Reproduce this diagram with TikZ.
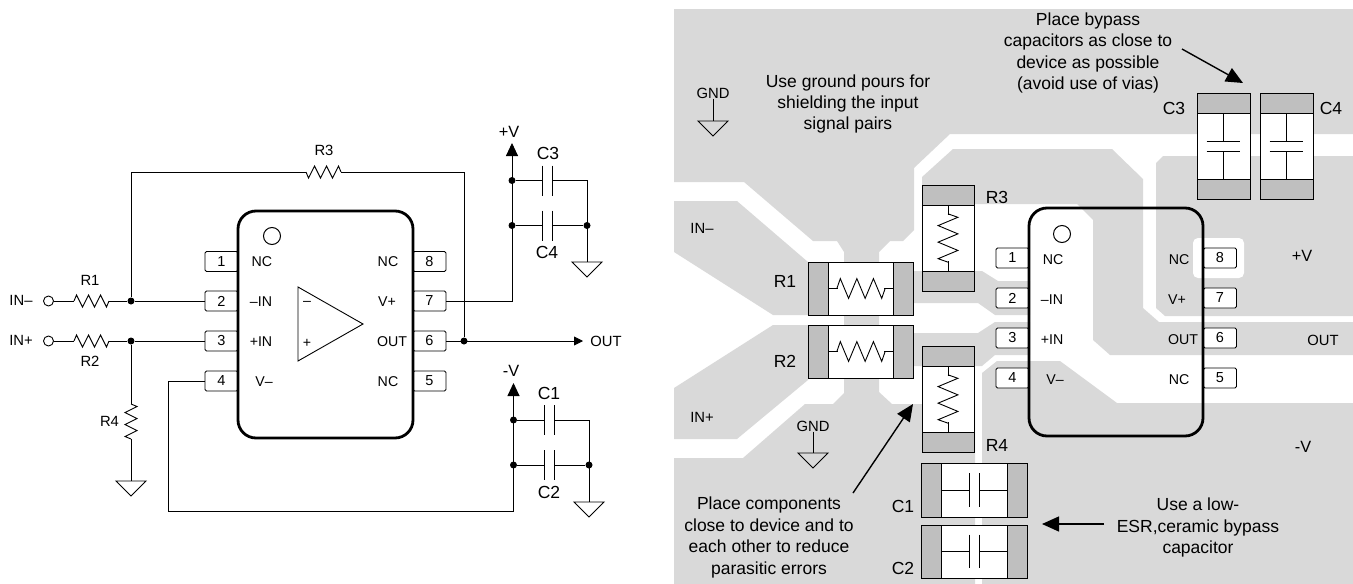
\documentclass[tikz,border=0pt]{standalone}
\usepackage{fontspec}
\setmainfont{Liberation Sans}
\usetikzlibrary{arrows.meta}
\definecolor{pourgray}{HTML}{D9D9D9}
\definecolor{padgray}{HTML}{BFBFBF}
\tikzset{
  lab/.style={inner sep=0pt,font=\fontsize{14.8}{18}\selectfont},
  chiplab/.style={inner sep=0pt,font=\fontsize{14.2}{18}\selectfont},
  supplylab/.style={inner sep=0pt,font=\fontsize{16.3}{20}\selectfont},
  biglab/.style={inner sep=0pt,font=\fontsize{17.5}{21.5}\selectfont},
  note/.style={inner sep=0pt,align=center,font=\fontsize{17.5}{21.4}\selectfont},
  pinbox/.style={draw,fill=white,rounded corners=1.5pt,minimum width=33pt,minimum height=20pt,inner sep=0pt,font=\fontsize{14.5}{18}\selectfont},
  chipbody/.style={draw,line width=2.8pt,rounded corners=18pt,minimum width=175pt,minimum height=227pt,inner sep=0pt},
  dot/.style={circle,fill=black,minimum size=7pt,inner sep=0pt},
  opendot/.style={circle,draw,minimum size=10pt,inner sep=0pt},
  mark1/.style={circle,draw,line width=1pt,minimum size=17pt,inner sep=0pt},
  body/.style={draw,fill=white,inner sep=0pt},
  endpad/.style={draw,fill=padgray,inner sep=0pt},
  callout/.style={->,line width=1.4pt,>={Triangle[length=17pt,width=15pt]}},
  reswave/.pic={\draw (-17.5,0) -- (-15,-6) -- (-9,6) -- (-3,-6) -- (3,6) -- (9,-6) -- (15,6) -- (17.5,0);},
  capgap/.pic={\draw (-5,-15) -- (-5,15) (5,-15) -- (5,15);},
  gndsym/.pic={\draw (-15,0) -- (15,0) -- (0,15) -- cycle;}
}
\begin{document}
\begin{tikzpicture}[x=1pt,y=-1pt,line width=0.9pt,>={Triangle[length=13pt,width=12pt]}]
  \useasboundingbox (0,0) rectangle (1353,584);

  % Ground pours
  \fill[pourgray] (674,9) -- (1353,9) -- (1353,134) -- (950,134) -- (914,168) -- (914,230) -- (903,241) -- (890,241) -- (879,252) -- (879,392) -- (892,404) -- (975,404) -- (975,584) -- (674,584) -- (674,458) -- (743,458) -- (805,404) -- (833,404) -- (844,393) -- (844,252) -- (837,241) -- (813,241) -- (744,182) -- (674,182) -- cycle;
  \fill[pourgray] (674,201) -- (737,201) -- (808,262) -- (808,315) -- (773,315) -- (674,252) -- cycle;
  \fill[pourgray] (674,388) -- (773,325) -- (808,325) -- (808,380) -- (737,439) -- (674,439) -- cycle;
  \fill[pourgray] (922,177) -- (953,149) -- (1112,149) -- (1143,179) -- (1143,308) -- (1159,322) -- (1353,322) -- (1353,355) -- (1110,355) -- (1093,340) -- (1093,220) -- (1077,204) -- (922,204) -- cycle;
  \fill[pourgray] (914,271) -- (982,271) -- (998,281) -- (1030,281) -- (1030,315) -- (995,315) -- (978,303) -- (914,303) -- cycle;
  \fill[pourgray] (914,333) -- (978,333) -- (995,322) -- (1030,322) -- (1030,355) -- (995,355) -- (982,366) -- (914,366) -- cycle;
  \fill[pourgray] (982,373) -- (997,361) -- (1060,361) -- (1117,403) -- (1353,403) -- (1353,584) -- (982,584) -- cycle;
  \fill[pourgray] (1156,163) -- (1163,156) -- (1353,156) -- (1353,316) -- (1165,316) -- (1156,308) -- cycle;
  \node[fill=white,rounded corners=5pt,minimum width=51pt,minimum height=40pt,inner sep=0pt] (p8clear) at (1218.5,258) {};

  % Schematic: pins and chip
  \node[pinbox] (p1) at (221.5,261.5) {1\hspace{5pt}};
  \node[pinbox] (p2) at (221.5,301) {2\hspace{5pt}};
  \node[pinbox] (p3) at (221.5,341) {3\hspace{5pt}};
  \node[pinbox] (p4) at (221.5,381) {4\hspace{5pt}};
  \node[pinbox] (p8) at (429.5,261.5) {8};
  \node[pinbox] (p7) at (429.5,301) {7};
  \node[pinbox] (p6) at (429.5,341) {6};
  \node[pinbox] (p5) at (429.5,381) {5};
  \node[chipbody] (chip) at (325.5,324.5) {};
  \node[mark1] (chipmark) at (272,236) {};
  \node[chiplab] (lnc1) at (262,262) {NC};
  \node[chiplab] (lin1) at (261,302) {–IN};
  \node[chiplab] (lip1) at (261,342) {+IN};
  \node[chiplab] (lvm1) at (264,382) {V–};
  \node[chiplab] (lnc8) at (388,262) {NC};
  \node[chiplab] (lvp1) at (387,302) {V+};
  \node[chiplab] (lout1) at (392,342) {OUT};
  \node[chiplab] (lnc5) at (388,382) {NC};

  % Amplifier symbol
  \coordinate (ampa) at (298,287);
  \coordinate (ampb) at (298,361);
  \coordinate (ampc) at (363,324);
  \draw (ampa) -- (ampc) -- (ampb) -- cycle;
  \node[chiplab] (ampm) at (307,303.5) {–};
  \node[chiplab] (ampp) at (307,343) {+};

  % Inputs
  \node[lab] (inmlab) at (21,300) {IN–};
  \node[lab] (inplab) at (21,340) {IN+};
  \node[opendot] (inm) at (48.5,301) {};
  \node[opendot] (inp) at (48.5,341) {};
  \coordinate (r1w) at (74,301);
  \coordinate (r1e) at (109,301);
  \coordinate (r2w) at (74,341);
  \coordinate (r2e) at (109,341);
  \pic at (91.5,301) {reswave};
  \pic at (91.5,341) {reswave};
  \node[lab] (r1lab) at (90,280) {R1};
  \node[lab] (r2lab) at (90,361) {R2};
  \node[dot] (j1) at (131,301) {};
  \node[dot] (j2) at (131,341) {};
  \draw (inm) -- (r1w);
  \draw (r1e) -- (j1) -- (p2.west);
  \draw (inp) -- (r2w);
  \draw (r2e) -- (j2) -- (p3.west);

  % Feedback R3
  \node[dot] (j3) at (464,341) {};
  \coordinate (r3w) at (306,172);
  \coordinate (r3e) at (341,172);
  \pic[yscale=-1] at (323.5,172) {reswave};
  \node[lab] (r3lab) at (324,150) {R3};
  \draw (j1) |- (r3w);
  \draw (r3e) -| (j3);
  \coordinate (outend) at (583,341);
  \node[lab] (outlab) at (606,341) {OUT};
  \draw[->,>={Triangle[length=9pt,width=9pt]}] (p6.east) -- (outend);

  % R4 to ground
  \coordinate (r4t) at (131,404);
  \coordinate (r4b) at (131,439);
  \pic[rotate=90] at (131,421.5) {reswave};
  \node[lab] (r4lab) at (109.5,421) {R4};
  \coordinate (g1) at (131,481);
  \draw (j2) -- (r4t);
  \draw (r4b) -- (g1);
  \pic at (g1) {gndsym};

  % Positive supply
  \coordinate (vptip) at (512,143);
  \node[supplylab] (vplab) at (509,132) {+V};
  \draw[->] (p7.east) -| (vptip);
  \node[dot] (j4) at (512,180.5) {};
  \node[dot] (j5) at (512,225.5) {};
  \node[dot] (j6) at (587,225.5) {};
  \coordinate (j4r) at (587,180.5);
  \coordinate (c3w) at (542,180.5);
  \coordinate (c3e) at (552,180.5);
  \coordinate (c4w) at (542,225.5);
  \coordinate (c4e) at (552,225.5);
  \coordinate (g2) at (587,262);
  \pic at (547,180.5) {capgap};
  \pic at (547,225.5) {capgap};
  \node[biglab] (c3lab) at (548,153) {C3};
  \node[biglab] (c4lab) at (547,252) {C4};
  \draw (j4) -- (c3w);
  \draw (c3e) -- (j4r) -- (g2);
  \draw (j5) -- (c4w);
  \draw (c4e) -- (j6);
  \pic at (g2) {gndsym};

  % Negative supply
  \coordinate (vmtip) at (513.5,383);
  \coordinate (vmlow) at (168.5,511);
  \node[supplylab] (vmlab) at (511,371) {-V};
  \draw[->] (p4.west) -- (vmlow |- p4.west) -- (vmlow) -| (vmtip);
  \node[dot] (j7) at (513.5,420) {};
  \node[dot] (j8) at (513.5,465) {};
  \node[dot] (j9) at (589,465) {};
  \coordinate (j7r) at (589,420);
  \coordinate (c1w) at (544.5,420);
  \coordinate (c1e) at (554.5,420);
  \coordinate (c2w) at (544.5,465);
  \coordinate (c2e) at (554.5,465);
  \coordinate (g3) at (589,502);
  \pic at (549.5,420) {capgap};
  \pic at (549.5,465) {capgap};
  \node[biglab] (c1lab) at (549,393) {C1};
  \node[biglab] (c2lab) at (549,492) {C2};
  \draw (j7) -- (c1w);
  \draw (c1e) -- (j7r) -- (g3);
  \draw (j8) -- (c2w);
  \draw (c2e) -- (j9);
  \pic at (g3) {gndsym};

  % Layout: pins and chip
  \node[pinbox] (q1) at (1012.5,258) {1\hspace{3pt}};
  \node[pinbox] (q2) at (1012.5,298) {2\hspace{3pt}};
  \node[pinbox] (q3) at (1012.5,338) {3\hspace{3pt}};
  \node[pinbox] (q4) at (1012.5,378) {4\hspace{3pt}};
  \node[pinbox] (q8) at (1220,258) {8};
  \node[pinbox] (q7) at (1220,298) {7};
  \node[pinbox] (q6) at (1220,338) {6};
  \node[pinbox] (q5) at (1220,378) {5};
  \node[chipbody,minimum width=174pt,minimum height=228pt] (chipb) at (1116,322) {};
  \node[mark1] (chipbmark) at (1062,234) {};
  \node[chiplab] (mnc1) at (1053,260) {NC};
  \node[chiplab] (min1) at (1052,300) {–IN};
  \node[chiplab] (mip1) at (1052,340) {+IN};
  \node[chiplab] (mvm1) at (1055,380) {V–};
  \node[chiplab] (mnc8) at (1179,260) {NC};
  \node[chiplab] (mvp1) at (1177,300) {V+};
  \node[chiplab] (mout1) at (1183,340) {OUT};
  \node[chiplab] (mnc5) at (1179,380) {NC};

  % Layout: resistors
  \node[body,minimum width=105pt,minimum height=53pt] (r1b) at (860.5,288.5) {};
  \node[endpad,minimum width=20pt,minimum height=53pt] (r1l) at (818,288.5) {};
  \node[endpad,minimum width=20pt,minimum height=53pt] (r1r) at (903.5,288.5) {};
  \pic[xscale=1.38,yscale=1.65] at (861,288.5) {reswave};
  \draw (r1l.east) -- ++(9.5,0);
  \draw (r1r.west) -- ++(-9.5,0);
  \node[body,minimum width=105pt,minimum height=53pt] (r2b) at (860.5,351.5) {};
  \node[endpad,minimum width=20pt,minimum height=53pt] (r2l) at (818,351.5) {};
  \node[endpad,minimum width=20pt,minimum height=53pt] (r2r) at (903.5,351.5) {};
  \pic[xscale=1.38,yscale=1.65] at (861,351.5) {reswave};
  \draw (r2l.east) -- ++(9.5,0);
  \draw (r2r.west) -- ++(-9.5,0);
  \node[body,minimum width=52pt,minimum height=106pt] (r3b) at (948,238) {};
  \node[endpad,minimum width=52pt,minimum height=20pt] (r3t) at (948,195) {};
  \node[endpad,minimum width=52pt,minimum height=20pt] (r3u) at (948,281) {};
  \pic[rotate=90,xscale=1.38,yscale=1.65] at (948,238) {reswave};
  \draw (r3t.south) -- ++(0,9.5);
  \draw (r3u.north) -- ++(0,-9.5);
  \node[body,minimum width=52pt,minimum height=106pt] (r4b) at (948,399) {};
  \node[endpad,minimum width=52pt,minimum height=20pt] (r4t) at (948,356) {};
  \node[endpad,minimum width=52pt,minimum height=20pt] (r4u) at (948,442) {};
  \pic[rotate=90,xscale=1.38,yscale=1.65] at (948,399) {reswave};
  \draw (r4t.south) -- ++(0,9.5);
  \draw (r4u.north) -- ++(0,-9.5);
  \node[biglab] (mr1) at (785,281) {R1};
  \node[biglab] (mr2) at (785,361) {R2};
  \node[biglab] (mr3) at (997,197) {R3};
  \node[biglab] (mr4) at (997,445) {R4};

  % Layout: capacitors
  \node[body,minimum width=106pt,minimum height=54pt] (c1b) at (974,490) {};
  \node[endpad,minimum width=20pt,minimum height=54pt] (c1l) at (931,490) {};
  \node[endpad,minimum width=20pt,minimum height=54pt] (c1r) at (1017,490) {};
  \pic[yscale=1.13] at (974,490) {capgap};
  \draw (c1l.east) -- ++(28,0);
  \draw (c1r.west) -- ++(-28,0);
  \node[body,minimum width=106pt,minimum height=53pt] (c2b) at (974,551.5) {};
  \node[endpad,minimum width=20pt,minimum height=53pt] (c2l) at (931,551.5) {};
  \node[endpad,minimum width=20pt,minimum height=53pt] (c2r) at (1017,551.5) {};
  \pic[yscale=1.13] at (974,551.5) {capgap};
  \draw (c2l.east) -- ++(28,0);
  \draw (c2r.west) -- ++(-28,0);
  \node[body,minimum width=53pt,minimum height=106pt] (c3b) at (1223.5,146) {};
  \node[endpad,minimum width=53pt,minimum height=20pt] (c3t) at (1223.5,103) {};
  \node[endpad,minimum width=53pt,minimum height=20pt] (c3u) at (1223.5,189) {};
  \pic[rotate=90,yscale=1.13] at (1223.5,146) {capgap};
  \draw (c3t.south) -- ++(0,28);
  \draw (c3u.north) -- ++(0,-28);
  \node[body,minimum width=53pt,minimum height=106pt] (c4b) at (1286.5,146) {};
  \node[endpad,minimum width=53pt,minimum height=20pt] (c4t) at (1286.5,103) {};
  \node[endpad,minimum width=53pt,minimum height=20pt] (c4u) at (1286.5,189) {};
  \pic[rotate=90,yscale=1.13] at (1286.5,146) {capgap};
  \draw (c4t.south) -- ++(0,28);
  \draw (c4u.north) -- ++(0,-28);
  \node[biglab] (mc1) at (903,506) {C1};
  \node[biglab] (mc2) at (903,568) {C2};
  \node[biglab] (mc3) at (1174,108) {C3};
  \node[biglab] (mc4) at (1331,108) {C4};

  % Layout: net labels
  \node[lab] (mgnd1) at (713,93) {GND};
  \coordinate (mg1) at (713,121);
  \draw (mgnd1.south) -- (mg1);
  \pic at (mg1) {gndsym};
  \node[lab] (mgnd2) at (813,426) {GND};
  \coordinate (mg2) at (813,453);
  \draw (mgnd2.south) -- (mg2);
  \pic at (mg2) {gndsym};
  \node[lab] (minm) at (702,228) {IN–};
  \node[lab] (minp) at (702,417) {IN+};
  \node[supplylab] (mvp) at (1302,256) {+V};
  \node[lab] (mout) at (1323,340) {OUT};
  \node[supplylab] (mvm) at (1303,447) {-V};

  % Notes and arrows
  \node[note] (noteground) at (848,104) {Use ground pours for\\shielding the input\\signal pairs};
  \node[note] (notebypass) at (1088,53) {Place bypass\\capacitors as close to\\device as possible\\(avoid use of vias)};
  \node[note] (noteplace) at (769,537.5) {Place components\\close to device and to\\each other to reduce\\parasitic errors};
  \node[note] (notelow) at (1198,527.5) {Use a low-\\ESR,ceramic bypass\\capacitor};
  \coordinate (a1s) at (1182,49);
  \coordinate (a1t) at (1243,83);
  \coordinate (a2s) at (853,493);
  \coordinate (a2t) at (913,404);
  \coordinate (a3s) at (1104,524);
  \coordinate (a3t) at (1042,524);
  \draw[callout] (a1s) -- (a1t);
  \draw[callout] (a2s) -- (a2t);
  \draw[callout] (a3s) -- (a3t);
\end{tikzpicture}
\end{document}
